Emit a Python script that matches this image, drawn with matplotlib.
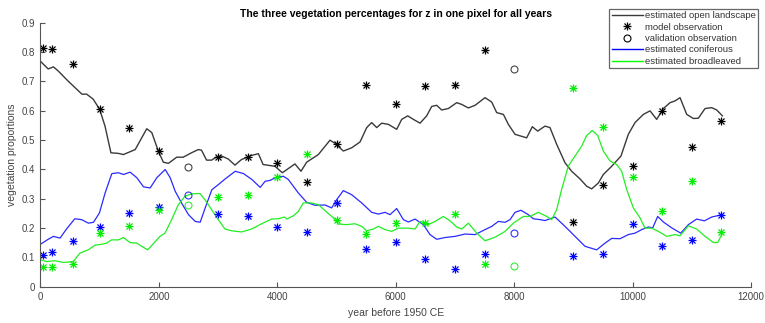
import matplotlib
matplotlib.use("Agg")
import matplotlib.pyplot as plt
from matplotlib.lines import Line2D

plt.rcParams['font.family'] = ['Liberation Sans', 'DejaVu Sans']

# Estimated proportions (smoothed series)
open_years = [0, 130, 220, 300, 470, 700, 780, 890, 1000, 1090, 1190, 1315, 1400, 1600,
              1795, 1880, 1990, 2075, 2160, 2215, 2300, 2410, 2550, 2665, 2720, 2805,
              2890, 2975, 3060, 3170, 3285, 3395, 3565, 3680, 3760, 3960, 4085, 4298,
              4400, 4496, 4693, 4890, 4975, 5115, 5256, 5397, 5510, 5594, 5679, 5763,
              5876, 6016, 6101, 6202, 6298, 6410, 6523, 6607, 6692, 6776, 6889, 7030,
              7114, 7227, 7340, 7508, 7621, 7705, 7818, 7902, 8015, 8211, 8307, 8397,
              8521, 8605, 8718, 8859, 8971, 9112, 9225, 9309, 9422, 9506, 9647, 9804,
              9928, 10041, 10182, 10295, 10407, 10520, 10633, 10717, 10802, 10914,
              11027, 11111, 11224, 11337, 11421, 11517]
open_est = [0.768, 0.742, 0.749, 0.735, 0.700, 0.656, 0.656, 0.639, 0.604, 0.547, 0.456,
            0.454, 0.450, 0.467, 0.538, 0.525, 0.462, 0.424, 0.420, 0.428, 0.441, 0.441,
            0.456, 0.467, 0.465, 0.431, 0.431, 0.442, 0.445, 0.435, 0.414, 0.433, 0.447,
            0.453, 0.416, 0.410, 0.388, 0.418, 0.393, 0.424, 0.450, 0.499, 0.488, 0.462,
            0.473, 0.493, 0.542, 0.559, 0.542, 0.557, 0.553, 0.536, 0.570, 0.582, 0.570,
            0.557, 0.582, 0.614, 0.618, 0.602, 0.607, 0.627, 0.621, 0.609, 0.618, 0.644,
            0.629, 0.593, 0.587, 0.553, 0.519, 0.507, 0.545, 0.530, 0.547, 0.542, 0.485,
            0.422, 0.393, 0.367, 0.342, 0.333, 0.353, 0.382, 0.410, 0.445, 0.519, 0.559,
            0.587, 0.599, 0.570, 0.607, 0.627, 0.633, 0.644, 0.587, 0.573, 0.574, 0.607,
            0.610, 0.602, 0.582]

conif_years = [0, 130, 220, 330, 440, 580, 695, 810, 895, 996, 1092, 1205, 1317, 1402,
               1514, 1627, 1740, 1852, 1965, 2106, 2191, 2275, 2388, 2500, 2613, 2697,
               2782, 2894, 3007, 3120, 3289, 3430, 3570, 3711, 3795, 3880, 3964, 4102,
               4186, 4355, 4496, 4637, 4806, 4918, 5002, 5115, 5256, 5425, 5594, 5707,
               5819, 5904, 6016, 6129, 6213, 6326, 6467, 6579, 6692, 6833, 7002, 7171,
               7340, 7508, 7621, 7733, 7846, 7930, 8015, 8115, 8239, 8324, 8436, 8521,
               8690, 8859, 9028, 9197, 9394, 9535, 9647, 9788, 9928, 10041, 10154, 10267,
               10340, 10424, 10520, 10661, 10813, 10942, 11083, 11213, 11337, 11517]
conif_est = [0.144, 0.161, 0.171, 0.165, 0.196, 0.231, 0.228, 0.216, 0.219, 0.251, 0.319,
             0.385, 0.388, 0.382, 0.390, 0.371, 0.340, 0.336, 0.371, 0.399, 0.371, 0.325,
             0.283, 0.245, 0.222, 0.219, 0.268, 0.330, 0.348, 0.367, 0.393, 0.385, 0.365,
             0.338, 0.359, 0.362, 0.371, 0.376, 0.365, 0.319, 0.287, 0.277, 0.278, 0.268,
             0.296, 0.327, 0.313, 0.285, 0.253, 0.247, 0.253, 0.245, 0.266, 0.228, 0.220,
             0.230, 0.211, 0.177, 0.161, 0.167, 0.171, 0.179, 0.177, 0.194, 0.205, 0.222,
             0.219, 0.228, 0.253, 0.260, 0.245, 0.231, 0.228, 0.225, 0.237, 0.205, 0.171,
             0.137, 0.125, 0.148, 0.164, 0.163, 0.177, 0.182, 0.194, 0.203, 0.200, 0.239,
             0.220, 0.200, 0.182, 0.211, 0.230, 0.224, 0.237, 0.245]

broad_years = [0, 105, 245, 385, 554, 667, 808, 920, 1033, 1117, 1202, 1315, 1400, 1512,
               1625, 1710, 1810, 1906, 2018, 2103, 2215, 2328, 2441, 2553, 2694, 2778,
               2891, 3004, 3116, 3229, 3397, 3566, 3735, 3904, 4016, 4118, 4158, 4270,
               4355, 4439, 4580, 4693, 4806, 4946, 5031, 5171, 5312, 5425, 5510, 5622,
               5707, 5819, 5932, 6044, 6213, 6326, 6410, 6551, 6664, 6805, 6917, 7030,
               7114, 7227, 7368, 7508, 7677, 7846, 7987, 8155, 8267, 8408, 8549, 8633,
               8718, 8802, 8915, 9028, 9141, 9225, 9321, 9411, 9506, 9619, 9731, 9816,
               9900, 10013, 10126, 10210, 10323, 10436, 10577, 10717, 10802, 10942,
               11083, 11224, 11365, 11438, 11517]
broad_est = [0.091, 0.085, 0.088, 0.082, 0.085, 0.114, 0.125, 0.141, 0.144, 0.148, 0.159,
             0.159, 0.167, 0.150, 0.148, 0.137, 0.125, 0.146, 0.171, 0.182, 0.228, 0.279,
             0.308, 0.316, 0.317, 0.296, 0.262, 0.228, 0.196, 0.190, 0.186, 0.196, 0.214,
             0.230, 0.231, 0.237, 0.230, 0.241, 0.256, 0.285, 0.285, 0.279, 0.259, 0.234,
             0.213, 0.211, 0.214, 0.205, 0.190, 0.196, 0.205, 0.194, 0.188, 0.199, 0.199,
             0.196, 0.222, 0.211, 0.222, 0.239, 0.224, 0.203, 0.196, 0.216, 0.182, 0.156,
             0.168, 0.188, 0.216, 0.239, 0.239, 0.253, 0.239, 0.228, 0.262, 0.331, 0.411,
             0.445, 0.479, 0.515, 0.532, 0.515, 0.462, 0.428, 0.416, 0.393, 0.331, 0.268,
             0.234, 0.199, 0.199, 0.188, 0.171, 0.177, 0.173, 0.207, 0.196, 0.171, 0.150,
             0.150, 0.182]

# Model observations
obs_years = [50, 200, 550, 1000, 1500, 2000, 3000, 3500, 4000, 4500, 5000, 5500, 6000,
             6500, 7000, 7500, 9000, 9500, 10000, 10500, 11000, 11500]
obs_open = [0.815, 0.809, 0.760, 0.606, 0.540, 0.462, 0.442, 0.442, 0.420, 0.355, 0.486,
            0.686, 0.622, 0.683, 0.686, 0.807, 0.220, 0.345, 0.412, 0.599, 0.476, 0.563]
obs_conif = [0.106, 0.117, 0.156, 0.204, 0.251, 0.272, 0.248, 0.242, 0.203, 0.185, 0.285,
             0.127, 0.151, 0.095, 0.061, 0.111, 0.104, 0.111, 0.212, 0.139, 0.158, 0.244]
obs_broad = [0.068, 0.067, 0.078, 0.182, 0.208, 0.260, 0.305, 0.312, 0.372, 0.452, 0.228,
             0.180, 0.218, 0.217, 0.246, 0.077, 0.677, 0.543, 0.372, 0.258, 0.361, 0.185]

# Validation observations
val_years = [2500, 8000]
val_open = [0.406, 0.743]
val_conif = [0.312, 0.182]
val_broad = [0.278, 0.070]

C_OPEN = '#3a3a3a'
C_CONIF = '#2a2aff'
C_BROAD = '#22ee22'
AX_GRAY = '#555555'

fig = plt.figure(figsize=(7.65, 3.23), dpi=100)
ax = fig.add_axes([0.0529, 0.113, 0.9288, 0.817])

ax.plot(open_years, open_est, color=C_OPEN, lw=1.0)
ax.plot(conif_years, conif_est, color=C_CONIF, lw=0.9)
ax.plot(broad_years, broad_est, color=C_BROAD, lw=0.9)


def asterisk(x, y, color, **kw):
    """Draw a MATLAB-style asterisk as an overlaid plus and cross."""
    ax.plot(x, y, ls='none', marker='+', ms=6, mew=0.9, color=color, **kw)
    ax.plot(x, y, ls='none', marker='x', ms=4.3, mew=0.9, color=color, **kw)


asterisk(obs_years, obs_open, 'black')
asterisk(obs_years, obs_conif, '#0000ff')
asterisk(obs_years, obs_broad, '#00ee00')

ax.plot(val_years, val_open, ls='none', marker='o', ms=5, mew=0.8, mfc='none', mec='#444444')
ax.plot(val_years, val_conif, ls='none', marker='o', ms=5, mew=0.8, mfc='none', mec='#3333ff')
ax.plot(val_years, val_broad, ls='none', marker='o', ms=5, mew=0.8, mfc='none', mec='#33ee33')

ax.set_xlim(0, 12000)
ax.set_ylim(0, 0.9)
ax.set_xticks([0, 2000, 4000, 6000, 8000, 10000, 12000])
ax.set_yticks([0, 0.1, 0.2, 0.3, 0.4, 0.5, 0.6, 0.7, 0.8, 0.9])
ax.set_yticklabels(['0', '0.1', '0.2', '0.3', '0.4', '0.5', '0.6', '0.7', '0.8', '0.9'])
ax.tick_params(direction='in', length=3.5, width=0.8, colors=AX_GRAY, labelsize=7,
               labelcolor='#444444', pad=4)
for side in ('top', 'right'):
    ax.spines[side].set_visible(False)
for side in ('left', 'bottom'):
    ax.spines[side].set_color(AX_GRAY)
    ax.spines[side].set_linewidth(0.8)

ax.set_xlabel('year before 1950 CE', fontsize=7.5, color='#444444', labelpad=4)
ax.set_ylabel('vegetation proportions', fontsize=7.5, color='#444444', labelpad=3)
ax.set_title('The three vegetation percentages for z in one pixel for all years',
             fontsize=7.5, fontweight='bold', pad=4)

handles = [
    Line2D([], [], color=C_OPEN, lw=1.0),
    (Line2D([], [], ls='none', marker='+', ms=6, mew=0.9, color='black'),
     Line2D([], [], ls='none', marker='x', ms=4.3, mew=0.9, color='black')),
    Line2D([], [], ls='none', marker='o', ms=5, mew=0.8, mfc='none', mec='black'),
    Line2D([], [], color='blue', lw=1.0),
    Line2D([], [], color='#00ff00', lw=1.0),
]
labels = ['estimated open landscape', 'model observation', 'validation observation',
          'estimated coniferous', 'estimated broadleaved']
leg = fig.legend(handles, labels, loc='upper right', bbox_to_anchor=(0.991, 0.972),
                 fontsize=6.8, frameon=True, fancybox=False, framealpha=1,
                 edgecolor='#666666', handlelength=3.3, handletextpad=0.2,
                 labelspacing=0.25, borderpad=0.25, borderaxespad=0)
leg.get_frame().set_linewidth(0.9)
for t in leg.get_texts():
    t.set_color('#333333')

fig.savefig('out.png', dpi=100)
